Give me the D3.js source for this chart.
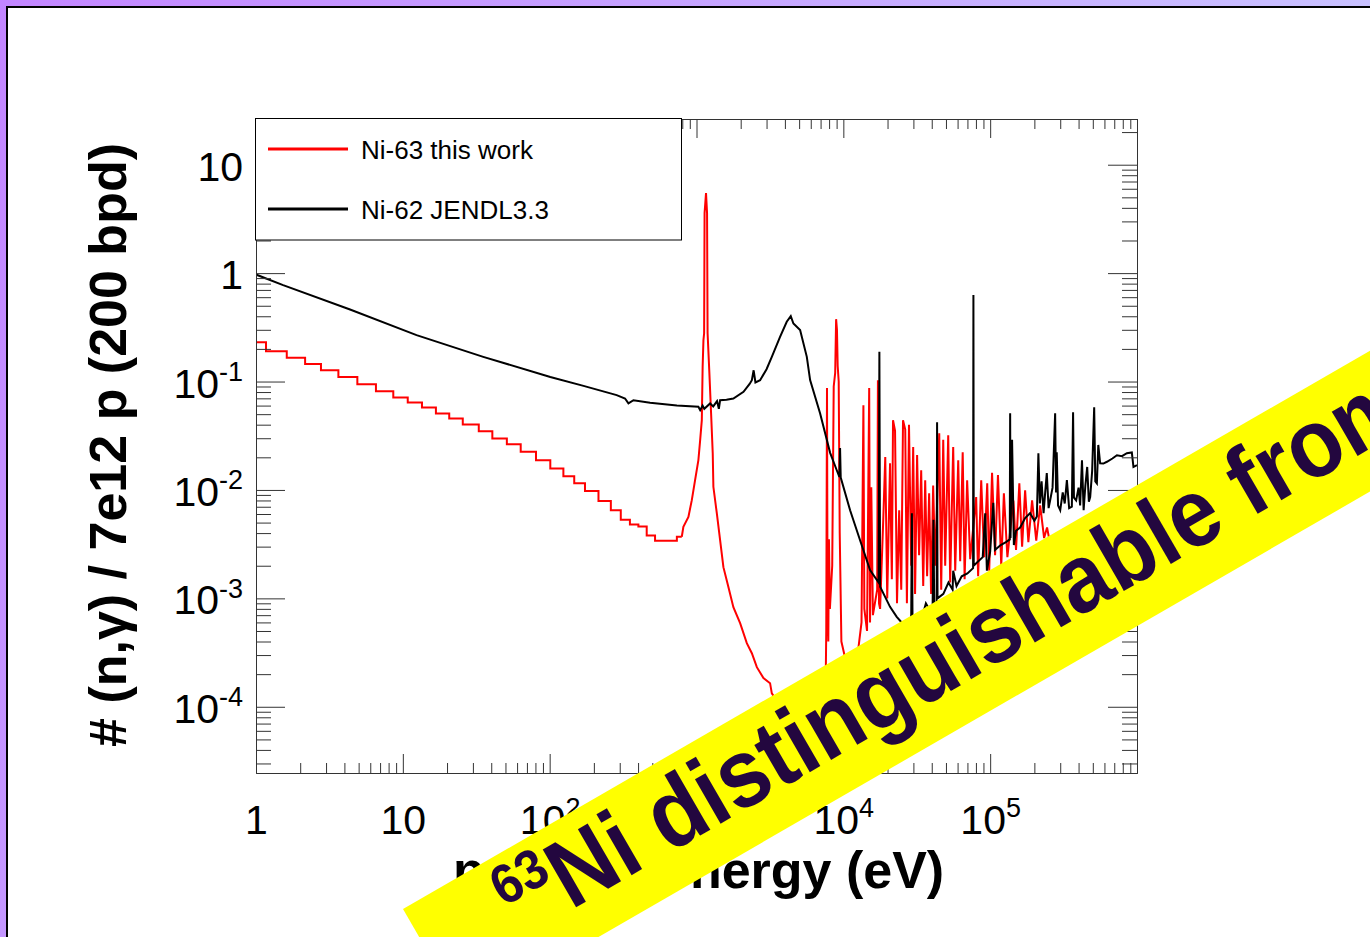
<!DOCTYPE html>
<html>
<head>
<meta charset="utf-8">
<title>Ni-63 (n,gamma)</title>
<script src="https://cdn.jsdelivr.net/npm/d3@7"></script>
<style>
  body { margin: 0; overflow: hidden; background: #fff; }
  text { font-family: "Liberation Sans", Arial, sans-serif; }
</style>
</head>
<body>
<div id="chart"></div>
<script>

// major ticks of the two log axes
var xMajor = [1, 10, 100, 1000, 1e4, 1e5];
var yMajor = [1e-4, 1e-3, 1e-2, 1e-1, 1, 10];

var legendLabels = ["Ni-63 this work", "Ni-62 JENDL3.3"];

// Ni-63 (this work) low energy part, histogram: bin edges (eV) and contents
var ni63Edges = [1, 1.17, 1.62, 2.16, 2.77, 3.64, 4.90, 6.56, 8.61, 10.8, 13.5, 16.8, 20.7, 25.6, 32.9,
  40.7, 51.1, 63.5, 80.7, 101, 124, 147, 174, 215, 261, 305, 352, 402, 458, 522, 735, 794];
var ni63Bins = [0.23, 0.19, 0.166, 0.145, 0.127, 0.110, 0.0946, 0.0815, 0.0713, 0.0641, 0.0577, 0.0508,
  0.0456, 0.0402, 0.0348, 0.0298, 0.0264, 0.0225, 0.0188, 0.0158, 0.0134, 0.0115, 0.0098, 0.0079,
  0.0065, 0.0053, 0.0048, 0.0046, 0.0038, 0.0034, 0.0037];

// Ni-63 above ~0.8 keV (eV, counts)
var ni63E = [794, 814, 881, 929, 978, 1030, 1059, 1087, 1101, 1115, 1127, 1135, 1161, 1180, 1190, 1224,
  1257, 1290, 1303, 1375, 1448, 1525, 1649, 1783, 1982, 2201, 2382, 2576, 2857, 3170, 3258, 4345, 5940,
  7500, 7650, 7740, 7800, 7900, 7980, 8100, 8400, 8600, 8800, 8930, 9050, 9150, 9300, 9450, 9700,
  10500, 11500, 12500, 13300, 13700, 13900, 14500, 15000, 15200, 15500, 15900, 16400, 17000, 17200, 17500,
  17800, 18700, 19300, 19900, 20800, 21400, 21800, 22500, 23200, 24000, 24800, 25500, 26400, 27100,
  28000, 29000, 29900, 30800, 31800, 32800, 33900, 35000, 36100, 37200, 38400, 39600, 40900, 42200,
  45000, 46400, 47900, 49400, 51800, 53400, 56000, 57800, 60600, 62500, 65000, 67000, 69700, 73100,
  80300, 82800, 86900, 91000, 95500, 98500, 103000, 108000, 113000, 119000, 124000, 131000, 144000,
  150000, 158000, 165000, 173000, 182000, 193000, 206000, 219000, 233000, 244000, 256000];
var ni63V = [0.0037, 0.00457, 0.00565, 0.00805, 0.0123, 0.0188, 0.0288, 0.044, 0.136, 0.241, 0.279, 3.58,
  5.47, 3.58, 0.279, 0.119, 0.051, 0.0218, 0.0107, 0.0061, 0.00344, 0.00194, 0.00127, 0.00083, 0.00059,
  0.000386, 0.000312, 0.000232, 0.000184, 0.000165, 0.000133, 0.000075, 0.000049,
  0.000044, 0.0005, 0.087, 0.0015, 0.0004, 0.0035, 0.0008, 0.002, 0.09, 0.12, 0.376, 0.3, 0.14, 0.1, 0.004, 0.0004,
  0.00025, 0.0002, 0.0003, 0.0006, 0.0605, 0.0008, 0.0005, 0.087, 0.0006, 0.0106, 0.0007, 0.0009, 0.0012, 0.103, 0.0009,
  0.0008, 0.0053, 0.0201, 0.001, 0.0176, 0.0015, 0.044, 0.035, 0.0009, 0.0065, 0.0012, 0.044, 0.036, 0.0009,
  0.040, 0.002, 0.0249, 0.0011, 0.021, 0.0025, 0.0152, 0.0013, 0.0123, 0.0016, 0.0093, 0.0011, 0.011, 0.002,
  0.0334, 0.0012, 0.029, 0.002, 0.032, 0.0014, 0.0249, 0.0018, 0.0188, 0.0022, 0.0223, 0.0015, 0.0123, 0.0023,
  0.0086, 0.0016, 0.0123, 0.0024, 0.0115, 0.0018, 0.0144, 0.0025, 0.0137, 0.002, 0.0093, 0.0024, 0.0080,
  0.0028, 0.0115, 0.003, 0.0099, 0.0033, 0.008, 0.0034, 0.0072, 0.0036, 0.0045, 0.0032];

// Ni-62 JENDL3.3 (eV, counts)
var ni62E = [1, 1.53, 4.37, 12.4, 35.3, 101, 170, 286, 326, 344, 372, 483, 735, 1030, 1059, 1100, 1130,
  1238, 1300, 1380, 1420, 1448, 1600, 1783, 2090, 2300, 2382, 2450, 2520, 2711, 3000, 3258, 3707, 4117,
  4385, 4571, 5077, 5640, 5940, 6950, 8130, 9020, 9400, 9500, 9600, 11120, 13000, 15200, 17400, 17600,
  17800, 20800, 23100, 25500, 28000, 29000, 29300, 29600, 33000, 36500, 40500, 41100, 41600, 43200,
  43500, 43800, 48000, 52000, 55500, 56000, 59000, 64000, 70000, 76500, 76900, 77300, 83000, 89000,
  92500, 95000, 100000, 105000, 108000, 118000, 128000, 136000, 136800, 137600, 141000, 145000, 150000,
  160000, 173000, 187000, 200000, 208000, 213000, 218000, 224000, 231000, 237000, 243000, 250000,
  256000, 266000, 277000, 281000, 284000, 290000, 300000, 312000, 322000, 333000, 345000, 360000,
  367000, 372000, 385000, 400000, 410000, 422000, 433000, 445000, 458000, 470000, 480000, 495000,
  511000, 520000, 533000, 545000, 561000, 590000, 624000, 680000, 730000, 790000, 853000, 922000,
  946000, 1000000];
var ni62V = [0.97, 0.775, 0.462, 0.268, 0.169, 0.110, 0.0912, 0.0749, 0.0698, 0.0628, 0.0673, 0.0636,
  0.0602, 0.0585, 0.0545, 0.060, 0.056, 0.0628, 0.059, 0.066, 0.056, 0.0673, 0.068, 0.0698, 0.0804,
  0.095, 0.103, 0.127, 0.098, 0.103, 0.13, 0.169, 0.258, 0.356, 0.401, 0.343, 0.298, 0.169, 0.103,
  0.0508, 0.022, 0.0152, 0.0132, 0.0243, 0.013, 0.0065, 0.00344, 0.00182, 0.0014, 0.188, 0.00128,
  0.000835, 0.000675, 0.00058, 0.0005, 0.0007, 0.0061, 0.0006, 0.00055, 0.0009, 0.0007, 0.0053, 0.0008,
  0.0009, 0.0422, 0.001, 0.0011, 0.0014, 0.0012, 0.0018, 0.0013, 0.0016, 0.0017, 0.0019, 0.627, 0.002,
  0.0022, 0.0024, 0.0061, 0.0018, 0.0027, 0.0076, 0.0028, 0.0031, 0.0033, 0.0035, 0.051, 0.0036, 0.029,
  0.0031, 0.0042, 0.0045, 0.0055, 0.0061, 0.0052, 0.0057, 0.0218, 0.0075, 0.012, 0.0061, 0.0095, 0.0143,
  0.0068, 0.008, 0.0105, 0.051, 0.0095, 0.0223, 0.0072, 0.0065, 0.0095, 0.0075, 0.0123, 0.0068, 0.007,
  0.052, 0.0085, 0.008, 0.0105, 0.0072, 0.0188, 0.0065, 0.011, 0.0163, 0.0078, 0.0086, 0.015, 0.058,
  0.012, 0.0115, 0.026, 0.0176, 0.0175, 0.0182, 0.0195, 0.0209, 0.0205, 0.0218, 0.0222, 0.0163, 0.0169];

var W = 1370, H = 937;
var plot = {left: 256, right: 1137, top: 119, bottom: 773};

var svg = d3.select("#chart").append("svg")
  .attr("width", W).attr("height", H);

// slide background
var grad = svg.append("defs").append("linearGradient")
  .attr("id", "slide").attr("x1", "0").attr("y1", "0").attr("x2", "1").attr("y2", "0.3");
grad.append("stop").attr("offset", "0").attr("stop-color", "#c285ff");
grad.append("stop").attr("offset", "1").attr("stop-color", "#c9c6ff");
svg.append("rect").attr("width", W).attr("height", H).attr("fill", "url(#slide)");
svg.append("rect").attr("x", 7).attr("y", 7).attr("width", W).attr("height", H)
  .attr("fill", "#fff").attr("stroke", "#000").attr("stroke-width", 2);

svg.select("defs").append("clipPath").attr("id", "plotclip")
  .append("rect").attr("x", plot.left).attr("y", plot.top)
  .attr("width", plot.right - plot.left).attr("height", plot.bottom - plot.top);

var x = d3.scaleLog().domain([1, 1e6]).range([plot.left, plot.right]);
var y = d3.scaleLog().domain([2.45e-5, 26.4]).range([plot.bottom, plot.top]);

// curves
var line = d3.line().x(function(d) { return x(d[0]); }).y(function(d) { return y(d[1]); });
var stepData = ni63Edges.map(function(e, i) { return [e, ni63Bins[Math.min(i, ni63Bins.length - 1)]]; });
var curves = svg.append("g").attr("clip-path", "url(#plotclip)").attr("fill", "none")
  .attr("stroke-width", 2).attr("stroke-linejoin", "miter");
curves.append("path").datum(stepData).attr("stroke", "#ff0000")
  .attr("d", line.curve(d3.curveStepAfter));
curves.append("path").datum(ni63E.map(function(e, i) { return [e, ni63V[i]]; }))
  .attr("stroke", "#ff0000").attr("d", line.curve(d3.curveLinear));
curves.append("path").datum(ni62E.map(function(e, i) { return [e, ni62V[i]]; }))
  .attr("stroke", "#000").attr("d", line.curve(d3.curveLinear));

// axes, ticks pointing inwards on all four sides
function isPow(v) { return Math.abs(Math.log10(v) - Math.round(Math.log10(v))) < 1e-9; }
var xMinor = x.ticks().filter(function(v) { return !isPow(v); });
var yMinor = y.ticks().filter(function(v) { return !isPow(v); });
var xAll = x.ticks().filter(isPow);
var yAll = y.ticks().filter(isPow);

function axisG(axis, tx, ty) {
  var g = svg.append("g").attr("transform", "translate(" + tx + "," + ty + ")").call(axis);
  g.selectAll("line").attr("stroke", "#333");
  g.select(".domain").attr("stroke", "#333");
  return g;
}
axisG(d3.axisBottom(x).tickValues(xMinor).tickSize(-10).tickSizeOuter(0).tickFormat(""), 0, plot.bottom);
axisG(d3.axisTop(x).tickValues(xMinor).tickSize(-10).tickSizeOuter(0).tickFormat(""), 0, plot.top);
axisG(d3.axisTop(x).tickValues(xAll).tickSize(-19).tickSizeOuter(0).tickFormat(""), 0, plot.top);
axisG(d3.axisLeft(y).tickValues(yMinor).tickSize(-15).tickSizeOuter(0).tickFormat(""), plot.left, 0);
axisG(d3.axisRight(y).tickValues(yMinor).tickSize(-15).tickSizeOuter(0).tickFormat(""), plot.right, 0);
axisG(d3.axisRight(y).tickValues(yAll).tickSize(-29).tickSizeOuter(0).tickFormat(""), plot.right, 0);

function powLabel(t, v) {
  var e = Math.round(Math.log10(v));
  t.text(null);
  if (e === 0) { t.append("tspan").text("1"); return; }
  if (e === 1) { t.append("tspan").text("10"); return; }
  t.append("tspan").text("10");
  t.append("tspan").attr("dy", "-0.62em").attr("font-size", "27px").text(e);
}

var xAxis = axisG(d3.axisBottom(x).tickValues(xMajor).tickSize(-19).tickSizeOuter(0), 0, plot.bottom);
xAxis.selectAll(".tick text")
  .attr("y", 61).attr("dy", null).attr("font-size", "41px").attr("fill", "#000")
  .each(function(d) { powLabel(d3.select(this), d); });

var yAxis = axisG(d3.axisLeft(y).tickValues(yMajor).tickSize(-29).tickSizeOuter(0), plot.left, 0);
yAxis.selectAll(".tick text")
  .attr("x", -13).attr("dy", "0.38em").attr("font-size", "41px").attr("fill", "#000")
  .each(function(d) { powLabel(d3.select(this), d); });

// axis titles
svg.append("text").attr("x", 453).attr("y", 888)
  .attr("font-size", "52px").attr("font-weight", "bold")
  .text("neutron energy (eV)");
svg.append("text").attr("transform", "translate(126,445) rotate(-90)")
  .attr("text-anchor", "middle").attr("font-size", "52px").attr("font-weight", "bold")
  .text("# (n,\u03b3) / 7e12 p (200 bpd)");

// legend
var legend = svg.append("g");
legend.append("rect").attr("x", 255.5).attr("y", 118.5).attr("width", 426).attr("height", 121.5)
  .attr("fill", "#fff").attr("stroke", "#000").attr("stroke-width", 1);
var legendColors = ["#ff0000", "#000"];
legendLabels.forEach(function(lab, i) {
  var ly = 149 + i * 60;
  legend.append("line").attr("x1", 268).attr("x2", 348).attr("y1", ly).attr("y2", ly)
    .attr("stroke", legendColors[i]).attr("stroke-width", 3);
  legend.append("text").attr("x", 361).attr("y", ly + 9.5).attr("font-size", "26px").text(lab);
});

// yellow banner
var banner = svg.append("g").attr("transform", "translate(403,909) rotate(-30)");
banner.append("rect").attr("width", 1400).attr("height", 122).attr("fill", "#ffff00");
var bt = banner.append("text").attr("transform", "scale(0.91,1)").attr("x", 97).attr("y", 85)
  .attr("font-weight", "bold").attr("fill", "#23073f");
bt.append("tspan").attr("font-size", "56px").attr("dy", "-36").text("63");
bt.append("tspan").attr("font-size", "97px").attr("dy", "36").text("Ni distinguishable from");

</script>
</body>
</html>
